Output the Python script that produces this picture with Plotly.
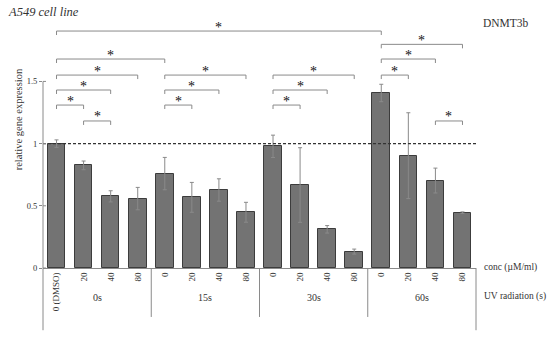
import plotly.graph_objects as go

# ---- data ----
conc_labels = ["0 (DMSO)", "20", "40", "80",
               "0", "20", "40", "80",
               "0", "20", "40", "80",
               "0", "20", "40", "80"]
uv_groups = ["0s", "15s", "30s", "60s"]
expression = [1.00, 0.825, 0.576, 0.558,
              0.759, 0.568, 0.627, 0.448,
              0.978, 0.667, 0.311, 0.132,
              1.407, 0.903, 0.703, 0.445]
errors = [0.03, 0.035, 0.045, 0.09,
          0.13, 0.12, 0.09, 0.08,
          0.09, 0.30, 0.03, 0.02,
          0.07, 0.345, 0.10, 0.006]
# significance brackets: (from bar index, to bar index, height)
brackets = [(0, 12, 1.905), (0, 4, 1.68), (0, 3, 1.551), (0, 2, 1.431),
            (0, 1, 1.31), (1, 2, 1.182),
            (4, 7, 1.551), (4, 6, 1.431), (4, 5, 1.31),
            (8, 11, 1.551), (8, 10, 1.431), (8, 9, 1.31),
            (12, 15, 1.798), (12, 14, 1.68), (12, 13, 1.551), (14, 15, 1.182)]
y_ticks = [0, 0.5, 1, 1.5]
y_tick_text = ["0", "0.5", "1", "1.5"]

FONT = "Liberation Serif"
YMAX = 2.05
n = len(conc_labels)
xs = list(range(n))

fig = go.Figure()
fig.add_trace(go.Bar(
    x=xs, y=expression, width=0.65,
    marker=dict(color="#737373", line=dict(color="#3c3c3c", width=1)),
    error_y=dict(type="data", array=errors, visible=True,
                 color="#8a8a8a", thickness=1, width=2),
    showlegend=False, hoverinfo="skip"))

tick_d = 0.032
for a, b, h in brackets:
    fig.add_trace(go.Scatter(
        x=[a, a, b, b], y=[h - tick_d, h, h, h - tick_d], mode="lines",
        line=dict(color="#8a8a8a", width=1), showlegend=False, hoverinfo="skip"))
    fig.add_annotation(x=(a + b) / 2, y=h, xref="x", yref="y", text="*",
                       showarrow=False, yanchor="middle", yshift=4,
                       font=dict(family=FONT, size=14, color="#111111"))

# dashed reference line at y = 1
fig.add_shape(type="line", xref="paper", yref="y", x0=0, x1=1, y0=1, y1=1,
              line=dict(color="#333333", width=1.2, dash="3px,2px"))

ax_col = "#8a8a8a"
# left axis line (1.5 down below labels)
fig.add_shape(type="line", xref="paper", yref="paper", x0=0, x1=0,
              y0=-0.244, y1=1.5 / YMAX, line=dict(color=ax_col, width=1))
# inside half of crossing ticks
for t in y_ticks:
    fig.add_shape(type="line", xref="paper", yref="y", x0=0, x1=3 / 433,
                  y0=t, y1=t, line=dict(color=ax_col, width=1))
# group separators
for k in range(1, len(uv_groups)):
    fig.add_shape(type="line", xref="paper", yref="paper", x0=k / 4, x1=k / 4,
                  y0=0, y1=-0.192, line=dict(color=ax_col, width=1))
fig.add_shape(type="line", xref="paper", yref="paper", x0=1, x1=1,
              y0=0, y1=-0.244, line=dict(color=ax_col, width=1))

# group labels
for k, g in enumerate(uv_groups):
    fig.add_annotation(x=4 * k + 1.5, y=-0.146, xref="x", yref="paper", text=g,
                       showarrow=False, font=dict(family=FONT, size=10, color="#333333"))

fig.add_annotation(x=1.013, y=-0.029, xref="paper", yref="paper", text="conc (µM/ml)",
                   showarrow=False, xanchor="left",
                   font=dict(family=FONT, size=9.5, color="#333333"))
fig.add_annotation(x=1.013, y=-0.142, xref="paper", yref="paper", text="UV radiation (s)",
                   showarrow=False, xanchor="left",
                   font=dict(family=FONT, size=9.5, color="#333333"))
fig.add_annotation(x=-0.085, y=1.003, xref="paper", yref="paper", text="<i>A549 cell line</i>",
                   showarrow=False, xanchor="left", yanchor="middle",
                   font=dict(family=FONT, size=12.5, color="#333333"))
fig.add_annotation(x=1.011, y=0.96, xref="paper", yref="paper", text="DNMT3b",
                   showarrow=False, xanchor="left", yanchor="middle",
                   font=dict(family=FONT, size=11.5, color="#333333"))
fig.add_annotation(x=-0.074, y=0.585, xref="paper", yref="paper",
                   text="relative gene expression", textangle=-90,
                   showarrow=False, font=dict(family=FONT, size=10.5, color="#333333"))

fig.update_layout(
    width=550, height=340,
    margin=dict(l=43, r=74, t=13, b=72),
    paper_bgcolor="white", plot_bgcolor="white",
    bargap=0,
    xaxis=dict(range=[-0.5, n - 0.5], tickvals=xs, ticktext=conc_labels,
               tickangle=-90, showgrid=False, zeroline=False,
               showline=True, linecolor=ax_col, linewidth=1, ticks="",
               tickfont=dict(family=FONT, size=9, color="#333333")),
    yaxis=dict(range=[0, YMAX], tickvals=y_ticks, ticktext=y_tick_text,
               showgrid=False, zeroline=False, showline=False,
               ticks="outside", ticklen=3, tickcolor=ax_col,
               tickfont=dict(family=FONT, size=8.5, color="#333333")),
)

fig.write_html("out.html", config={"displayModeBar": False},
               post_script="document.body.style.margin='0';document.body.style.overflow='hidden';")
